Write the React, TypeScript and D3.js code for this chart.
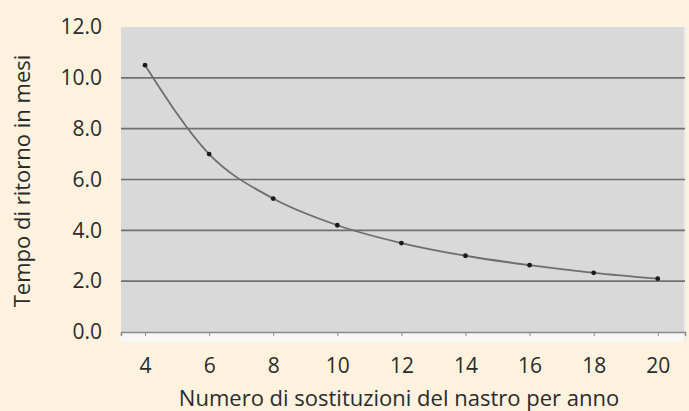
import React, { useEffect, useRef } from 'react';
import * as d3 from 'd3';

// sostituzioni del nastro per anno
const sostituzioni = [4, 6, 8, 10, 12, 14, 16, 18, 20];
// tempo di ritorno in mesi
const tempoRitorno = [10.5, 7.0, 5.25, 4.2, 3.5, 3.0, 2.63, 2.33, 2.1];
const yTicks = [0, 2, 4, 6, 8, 10, 12];

const W = 689;
const H = 411;
const margin = { top: 27, right: 4, bottom: 79, left: 121 };
const FONT = '"Open Sans", "DejaVu Sans", sans-serif';

const App = () => {
  const ref = useRef<SVGSVGElement>(null);

  useEffect(() => {
    const svg = d3.select(ref.current);
    svg.selectAll('*').remove();

    const plotW = W - margin.left - margin.right;
    const plotH = H - margin.top - margin.bottom;

    const x = d3.scaleLinear().domain([3.25, 20.85]).range([margin.left, margin.left + plotW]);
    const y = d3.scaleLinear().domain([0, 12]).range([margin.top + plotH, margin.top]);

    svg.append('rect').attr('width', W).attr('height', H).attr('fill', '#fdf2de');

    // plot area
    svg.append('rect')
      .attr('x', margin.left).attr('y', margin.top)
      .attr('width', plotW).attr('height', plotH)
      .attr('fill', '#d9d9d9');
    svg.append('rect')
      .attr('x', margin.left).attr('y', y(0))
      .attr('width', plotW).attr('height', 10)
      .attr('fill', '#f7f7f7');
    svg.append('line')
      .attr('x1', margin.left + plotW).attr('x2', margin.left + plotW)
      .attr('y1', margin.top).attr('y2', y(0) + 10)
      .attr('stroke', '#ececec').attr('stroke-width', 2);

    // grid
    svg.append('g')
      .selectAll('line')
      .data(yTicks.filter(d => d > 0 && d < 12))
      .join('line')
      .attr('x1', margin.left).attr('x2', margin.left + plotW)
      .attr('y1', d => y(d)).attr('y2', d => y(d))
      .attr('stroke', '#707070').attr('stroke-width', 1.6);

    // x axis
    const xa = svg.append('g')
      .attr('transform', `translate(0,${y(0)})`)
      .call(d3.axisBottom(x).tickValues(sostituzioni).tickSize(4).tickPadding(22).tickFormat(d3.format('d')));
    xa.select('.domain').attr('stroke', '#8a8a8a').attr('stroke-width', 1.5);
    xa.selectAll('.tick line').attr('stroke', '#8a8a8a');
    xa.selectAll('text').attr('font-family', FONT).attr('font-size', 21).attr('fill', '#2b2b2b');

    // y axis labels
    const ya = svg.append('g')
      .attr('transform', `translate(${margin.left},0)`)
      .call(d3.axisLeft(y).tickValues(yTicks).tickSize(0).tickPadding(19).tickFormat(d3.format('.1f')));
    ya.select('.domain').remove();
    ya.selectAll('text').attr('font-family', FONT).attr('font-size', 21).attr('fill', '#2b2b2b');

    // curve
    svg.append('path')
      .datum(sostituzioni.map((s, i) => [s, tempoRitorno[i]] as [number, number]))
      .attr('fill', 'none')
      .attr('stroke', '#6e6e6e')
      .attr('stroke-width', 1.8)
      .attr('d', d3.line<[number, number]>()
        .x(d => x(d[0])).y(d => y(d[1]))
        .curve(d3.curveMonotoneX));

    svg.append('g')
      .selectAll('circle')
      .data(sostituzioni)
      .join('circle')
      .attr('cx', d => x(d))
      .attr('cy', (d, i) => y(tempoRitorno[i]))
      .attr('r', 2.4)
      .attr('fill', '#1a1a1a');

    // titles
    svg.append('text')
      .attr('x', 399).attr('y', 406)
      .attr('text-anchor', 'middle')
      .attr('font-family', FONT).attr('font-size', 22).attr('fill', '#2b2b2b')
      .text('Numero di sostituzioni del nastro per anno');

    svg.append('text')
      .attr('transform', 'translate(30,181) rotate(-90)')
      .attr('text-anchor', 'middle')
      .attr('font-family', FONT).attr('font-size', 22).attr('fill', '#2b2b2b')
      .text('Tempo di ritorno in mesi');
  }, []);

  return (
    <svg ref={ref} width={W} height={H} style={{ display: 'block', position: 'absolute', left: 0, top: 0 }}></svg>
  );
};

export default App;
